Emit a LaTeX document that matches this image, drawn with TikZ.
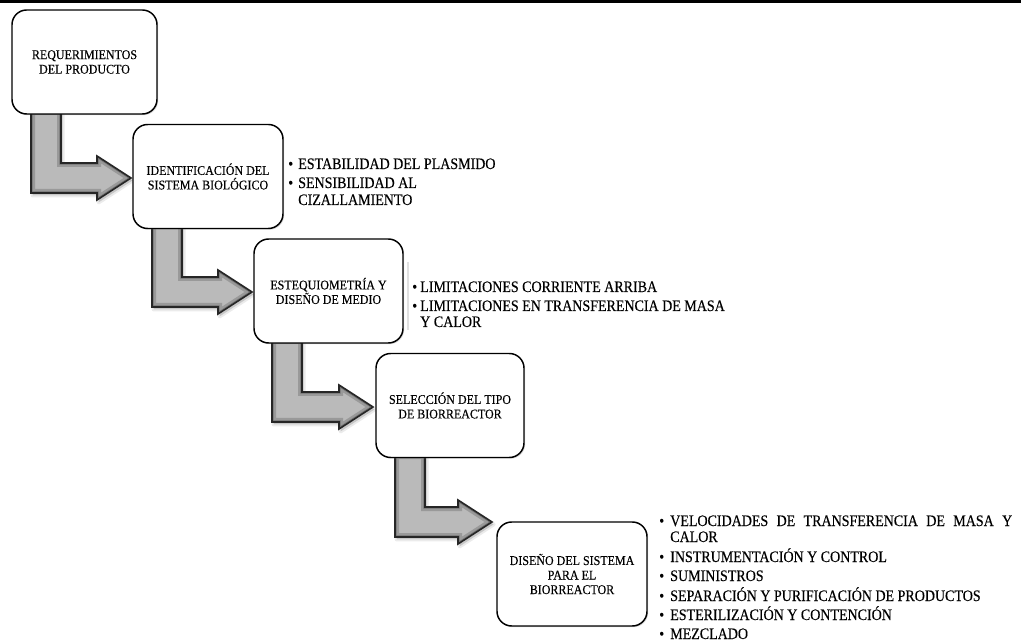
\documentclass[tikz,border=0pt]{standalone}
\usepackage{fontspec}
\setmainfont{Liberation Serif}
\newfontfamily\notefont{Liberation Serif}[FakeStretch=0.875, FakeBold=0.25]
\newfontfamily\boxfont{Liberation Serif}[FakeStretch=0.9, FakeBold=0.25]
\usetikzlibrary{calc,shadows}

% outline of an elbow arrow: stem down from #1, bar and head pointing at #2
\newcommand\elbowpath[2]{(#1) -- ($(#1)+(30,0)$) -- ($(#1|-#2)+(30,-15)$)
  -- ($(#2)+(-34,-15)$) -- ($(#2)+(-34,-22)$) -- (#2) -- ($(#2)+(-34,22)$)
  -- ($(#2)+(-34,15)$) -- ($(#1|-#2)+(0,15)$) -- cycle}

% bevelled grey elbow arrow with a soft shadow
\newcommand\elbow[2]{%
  \begin{scope}[transform canvas={shift={(1.2pt,-1.8pt)}}]
    \draw[black, opacity=0.08, line width=3pt, line join=round] \elbowpath{#1}{#2};
    \fill[black, opacity=0.15] \elbowpath{#1}{#2};
  \end{scope}
  \begin{scope}
    \clip \elbowpath{#1}{#2};
    \fill[arrowlight] \elbowpath{#1}{#2};
    \draw[arrowmid, line width=6pt] \elbowpath{#1}{#2};
    \draw[arrowdark, line width=2.5pt] \elbowpath{#1}{#2};
  \end{scope}
  \draw[arrowline, line width=1.2pt, line join=miter] \elbowpath{#1}{#2};
}

% bullet followed by text, bullet set in a box of width #1
\newcommand\bl[2]{\makebox[#1][l]{\textbullet}#2}

\colorlet{arrowlight}{black!27}
\colorlet{arrowmid}{black!40}
\colorlet{arrowdark}{black!55}
\colorlet{arrowline}{black!85}

\begin{document}
\begin{tikzpicture}[x=0.75pt, y=-0.75pt,
  stage/.style={draw=black, line width=1.1pt, fill=white, rounded corners=11pt,
    align=center, inner sep=0pt, minimum height=78pt,
    font=\boxfont\fontsize{10}{10.9}\selectfont,
    drop shadow={shadow xshift=0.9pt, shadow yshift=-0.9pt, opacity=0.3}},
  note/.style={anchor=base west, inner sep=0pt, font=\notefont\fontsize{12}{12.75}\selectfont}]

\useasboundingbox (0,0) rectangle (1021,641);
\fill[white] (0,0) rectangle (1021,641);
\fill[black] (0,0) rectangle (1021,3);

% stage box centres (the boxes are drawn after the arrows)
\path (84.5,62) coordinate (c1) (208,176.5) coordinate (c2) (328.5,291) coordinate (c3)
      (450,405.5) coordinate (c4) (572,574) coordinate (c5);

% arrow tips
\coordinate (t1) at (131,178);
\coordinate (t2) at (252,292);
\coordinate (t3) at (373,407);
\coordinate (t4) at (492,522);

% arrow start points, just inside the bottom edge of each box
\coordinate (s1) at (31,111);
\coordinate (s2) at (152,225);
\coordinate (s3) at (272,340);
\coordinate (s4) at (395,455);

\elbow{s1}{t1}
\elbow{s2}{t2}
\elbow{s3}{t3}
\elbow{s4}{t4}

\node[stage, minimum width=108.75pt] (b1) at (c1) {REQUERIMIENTOS\\DEL PRODUCTO};
\node[stage, minimum width=112.5pt] (b2) at (c2) {IDENTIFICACIÓN DEL\\SISTEMA BIOLÓGICO};
\node[stage, minimum width=111.75pt] (b3) at (c3) {ESTEQUIOMETRÍA Y\\DISEÑO DE MEDIO};
\node[stage, minimum width=111pt] (b4) at (c4) {SELECCIÓN DEL TIPO\\DE BIORREACTOR};
\node[stage, minimum width=112.5pt] (b5) at (c5) {DISEÑO DEL SISTEMA\\PARA EL\\BIORREACTOR};

% notes beside the identification stage
\node[note] (n21) at (288,169) {\bl{7.5pt}{ESTABILIDAD DEL PLASMIDO}};
\node[note] (n22) at (288,188) {\bl{7.5pt}{SENSIBILIDAD AL}};
\node[note] (n23) at (298,205) {CIZALLAMIENTO};

% notes beside the stoichiometry stage
\draw[black!12, line width=1.1pt] (408,262) -- (408,330);
\node[note] (n31) at (412,292) {\bl{6pt}{LIMITACIONES CORRIENTE ARRIBA}};
\node[note] (n32) at (412,311) {\bl{6pt}{LIMITACIONES EN TRANSFERENCIA DE MASA}};
\node[note] (n33) at (420,327) {Y CALOR};

% notes beside the system design stage
\node[note] (n51) at (659,526) {\bl{8.25pt}{\makebox[256.5pt][s]{VELOCIDADES\hfill DE\hfill TRANSFERENCIA\hfill DE\hfill MASA\hfill Y}}};
\node[note] (n52) at (670,542) {CALOR};
\node[note] (n53) at (659,562) {\bl{8.25pt}{INSTRUMENTACIÓN Y CONTROL}};
\node[note] (n54) at (659,581) {\bl{8.25pt}{SUMINISTROS}};
\node[note] (n55) at (659,601) {\bl{8.25pt}{SEPARACIÓN Y PURIFICACIÓN DE PRODUCTOS}};
\node[note] (n56) at (659,620) {\bl{8.25pt}{ESTERILIZACIÓN Y CONTENCIÓN}};
\node[note] (n57) at (659,639) {\bl{8.25pt}{MEZCLADO}};
\end{tikzpicture}
\end{document}
